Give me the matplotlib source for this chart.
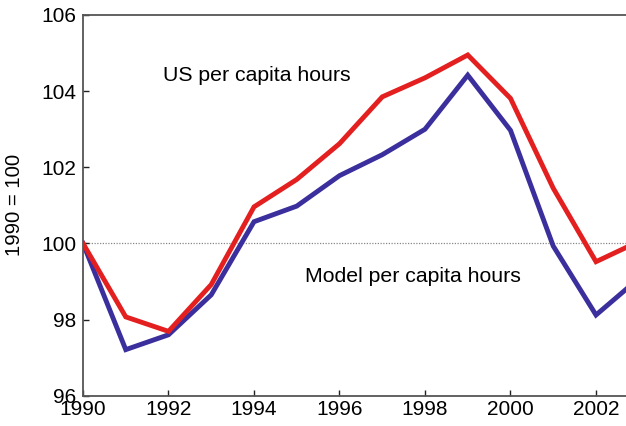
import matplotlib
matplotlib.use("Agg")
import matplotlib.pyplot as plt

years = [1990, 1991, 1992, 1993, 1994, 1995, 1996, 1997, 1998, 1999, 2000, 2001, 2002, 2003]
us_hours = [100.0, 98.07, 97.69, 98.92, 100.96, 101.68, 102.62, 103.85, 104.35, 104.95, 103.81, 101.45, 99.52, 100.05]
model_hours = [100.0, 97.21, 97.60, 98.65, 100.57, 100.98, 101.78, 102.33, 103.0, 104.42, 102.97, 99.93, 98.12, 99.08]
xticks = [1990, 1992, 1994, 1996, 1998, 2000, 2002]
yticks = [96, 98, 100, 102, 104, 106]

plt.rcParams['font.family'] = ['Liberation Sans', 'DejaVu Sans']

fig = plt.figure(figsize=(6.26, 4.26), dpi=100)
ax = fig.add_axes([83/626, 1-395.7/426, 1-83/626, (395.7-15)/426])

ax.axhline(100, color='#888888', lw=0.9, ls=(0, (1, 1.2)), zorder=1)
ax.plot(years, us_hours, color='#e3201f', lw=3.5, solid_joinstyle='miter', zorder=3)
ax.plot(years, model_hours, color='#3a2f9c', lw=3.5, solid_joinstyle='miter', zorder=2)

ax.set_xlim(1990, 1990 + (626-83)/42.75)
ax.set_ylim(96, 106)
ax.set_xticks(xticks)
ax.set_yticks(yticks)
ax.tick_params(direction='in', length=4, width=1, labelsize=15, colors='#222222', labelcolor='black')
ax.tick_params(axis='y', pad=5)
ax.tick_params(axis='x', pad=3)
for s in ['left', 'bottom', 'top']:
    ax.spines[s].set_color('#555555')
    ax.spines[s].set_linewidth(1.3)
ax.spines['right'].set_visible(False)

ax.set_ylabel('1990 = 100', fontsize=14.7)
ax.yaxis.set_label_coords(-0.109, 0.5)

ax.text(1991.87, 104.4, 'US per capita hours', fontsize=15.3, va='center', ha='left')
ax.text(1995.19, 99.12, 'Model per capita hours', fontsize=15.3, va='center', ha='left')

fig.savefig('out.png', dpi=100)
